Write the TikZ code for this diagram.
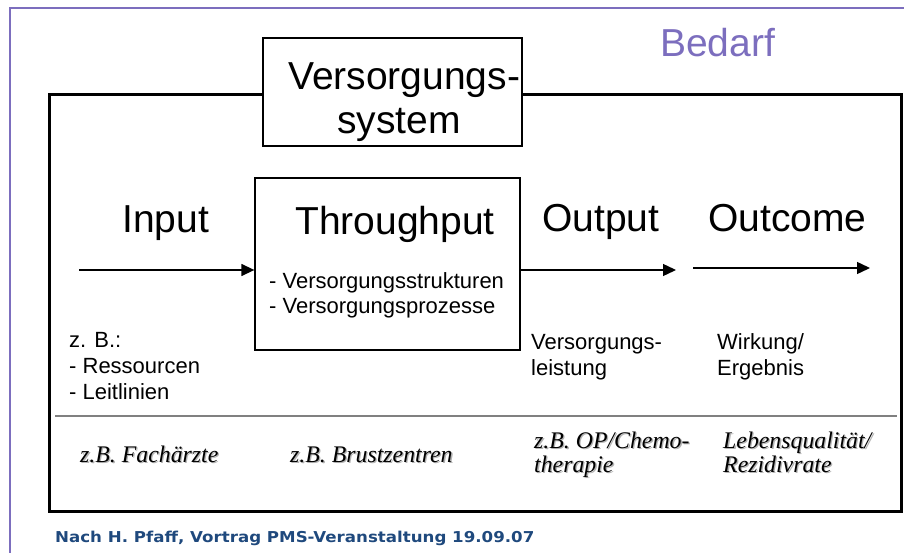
\documentclass[tikz,border=0pt]{standalone}
\usepackage{fontspec}
\setmainfont{Liberation Sans}
\newfontfamily\timesf{Liberation Serif}
\newfontfamily\verdf{DejaVu Sans}[FakeStretch=1.11]
\usetikzlibrary{arrows.meta}
\definecolor{lila}{RGB}{124,110,190}
\definecolor{footblue}{RGB}{31,73,125}
\newcommand\shtext[1]{\rlap{\textcolor{black!30}{\kern1.3pt\raisebox{-1.3pt}{#1}}}#1}
\tikzset{
  big/.style={anchor=base west, inner sep=0pt, font=\fontsize{39}{44}\selectfont},
  small/.style={anchor=base west, inner sep=0pt, font=\fontsize{22}{25}\selectfont},
  ital/.style={anchor=base west, inner sep=0pt, font=\timesf\itshape\fontsize{23.8}{26}\selectfont},
  flow/.style={line width=1.4pt, -{Triangle[length=13pt,width=12pt]}},
}
\begin{document}
\begin{tikzpicture}[x=1pt,y=-1pt]
\useasboundingbox (0,0) rectangle (904,553);
% purple frame
\draw[lila, line width=2.2pt] (10,553) -- (10,8) -- (904,8);
\node[big, text=lila] (bedarf) at (660,57) {Bedarf};
% outer system box
\node[draw, line width=3pt, minimum width=852pt, minimum height=416pt, inner sep=0pt] (sys) at (475,303) {};
% Versorgungssystem box
\node[draw, fill=white, line width=2.6pt, minimum width=259pt, minimum height=108pt, inner sep=0pt] (vs) at (392.5,92) {};
\node[big] (vs1) at (288,90) {Versorgungs-};
\node[big] (vs2) at (337,134) {system};
% throughput box
\node[draw, line width=1.3pt, minimum width=265pt, minimum height=172pt, inner sep=0pt] (tp) at (387.5,264) {};
\node[big] (tpt) at (295,235) {Throughput};
\node[small] (tp1) at (269,288) {- Versorgungsstrukturen};
\node[small] (tp2) at (269,313) {- Versorgungsprozesse};
% headings
\node[big] (inp) at (122,233) {Input};
\node[big] (outp) at (542,232) {Output};
\node[big] (outc) at (708,232) {Outcome};
% arrows
\coordinate (a1) at (79,270);
\coordinate (a2) at (676,270);
\coordinate (b1) at (693,268);
\coordinate (b2) at (870,268);
\draw[flow] (a1) -- (a1 -| tp.west);
\draw[flow] (tp.east |- a2) -- (a2);
\draw[flow] (b1) -- (b2);
% descriptions
\node[small] (zb) at (69,347) {z. B.:};
\node[small] (res) at (69,373) {- Ressourcen};
\node[small] (leit) at (69,399) {- Leitlinien};
\node[small] (vl1) at (531,349) {Versorgungs-};
\node[small] (vl2) at (531,375) {leistung};
\node[small] (we1) at (717,349) {Wirkung/};
\node[small] (we2) at (717,375) {Ergebnis};
% separator
\coordinate (s1) at (55,416);
\coordinate (s2) at (897,416);
\draw[black!50, line width=1.6pt] (s1) -- (s2);
% examples
\node[ital] (ex1) at (80,462) {\shtext{z.B. Fachärzte}};
\node[ital] (ex2) at (290,462) {\shtext{z.B. Brustzentren}};
\node[ital] (ex3) at (534,448) {\shtext{z.B. OP/Chemo-}};
\node[ital] (ex4) at (534,472) {\shtext{therapie}};
\node[ital] (ex5) at (723,448) {\shtext{Lebensqualität/}};
\node[ital] (ex6) at (723,472) {\shtext{Rezidivrate}};
% footer
\node[anchor=base west, inner sep=0pt, text=footblue, font=\verdf\bfseries\fontsize{15}{18}\selectfont] (foot) at (55,542) {Nach H. Pfaff, Vortrag PMS-Veranstaltung 19.09.07};
\end{tikzpicture}
\end{document}
